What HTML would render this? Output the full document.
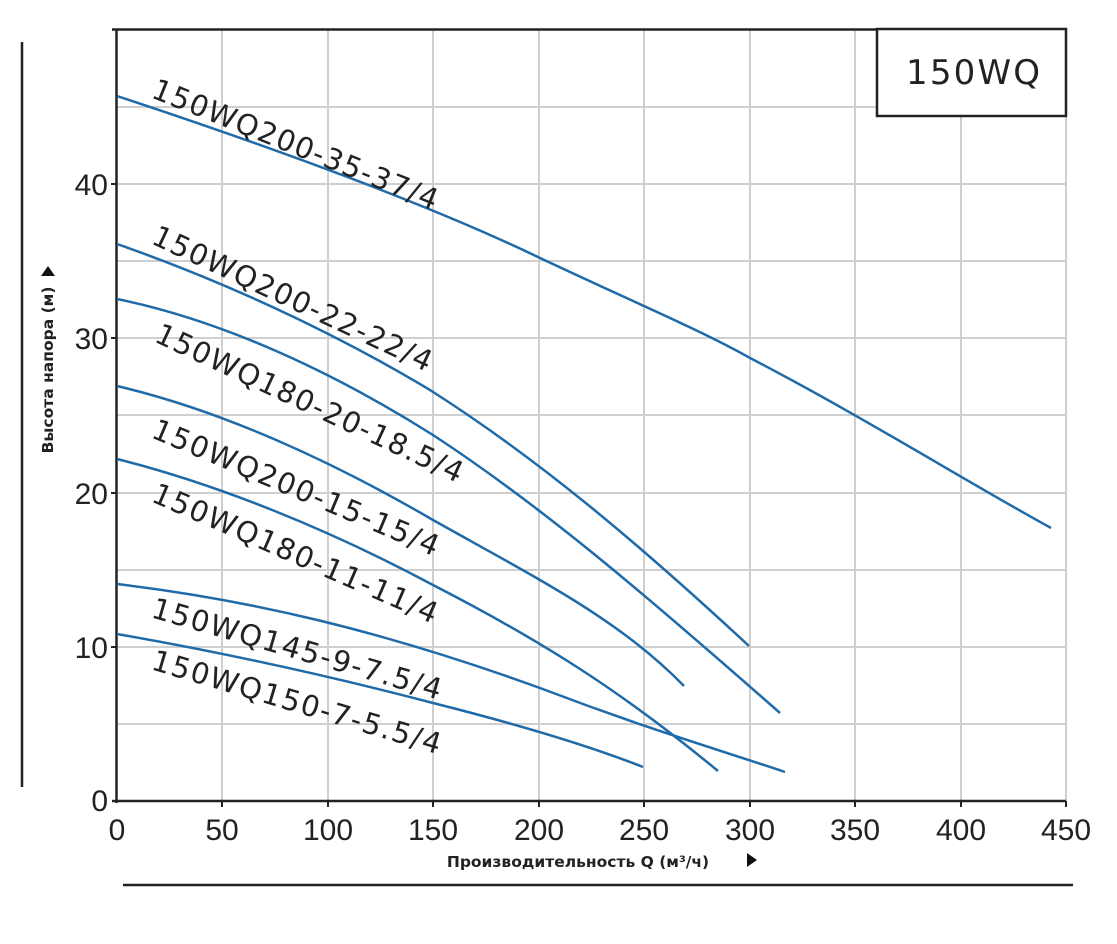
<!DOCTYPE html>
<html><head><meta charset="utf-8"><style>html,body{margin:0;padding:0;background:#fff}svg{display:block}</style></head>
<body>
<svg width="1117" height="944" viewBox="0 0 1117 944" xmlns="http://www.w3.org/2000/svg" font-family="'DejaVu Sans','Liberation Sans',sans-serif">
<g stroke="#cfcfcf" stroke-width="2">
<line x1="222" y1="30" x2="222" y2="801"/><line x1="328" y1="30" x2="328" y2="801"/><line x1="433" y1="30" x2="433" y2="801"/><line x1="539" y1="30" x2="539" y2="801"/><line x1="644" y1="30" x2="644" y2="801"/><line x1="750" y1="30" x2="750" y2="801"/><line x1="855" y1="30" x2="855" y2="801"/><line x1="961" y1="30" x2="961" y2="801"/><line x1="1066" y1="30" x2="1066" y2="801"/>
<line x1="117" y1="724" x2="1066" y2="724"/><line x1="117" y1="647" x2="1066" y2="647"/><line x1="117" y1="570" x2="1066" y2="570"/><line x1="117" y1="493" x2="1066" y2="493"/><line x1="117" y1="415" x2="1066" y2="415"/><line x1="117" y1="338" x2="1066" y2="338"/><line x1="117" y1="261" x2="1066" y2="261"/><line x1="117" y1="184" x2="1066" y2="184"/><line x1="117" y1="107" x2="1066" y2="107"/>
</g>
<g stroke="#222" stroke-width="2.5" fill="none">
<line x1="112" y1="29.5" x2="1066" y2="29.5"/>
<line x1="116.5" y1="29" x2="116.5" y2="803"/>
<line x1="112" y1="801" x2="1066" y2="801"/>
<line x1="22" y1="42" x2="22" y2="787"/>
<line x1="123" y1="885" x2="1073" y2="885"/>
</g>
<g stroke="#222" stroke-width="2">
<line x1="111" y1="647" x2="117" y2="647"/><line x1="111" y1="493" x2="117" y2="493"/><line x1="111" y1="338" x2="117" y2="338"/><line x1="111" y1="184" x2="117" y2="184"/>
<line x1="222" y1="801" x2="222" y2="807"/><line x1="328" y1="801" x2="328" y2="807"/><line x1="433" y1="801" x2="433" y2="807"/><line x1="539" y1="801" x2="539" y2="807"/><line x1="644" y1="801" x2="644" y2="807"/><line x1="750" y1="801" x2="750" y2="807"/><line x1="855" y1="801" x2="855" y2="807"/><line x1="961" y1="801" x2="961" y2="807"/><line x1="1066" y1="801" x2="1066" y2="807"/>
</g>
<rect x="877" y="29" width="189" height="87" fill="#fff" stroke="#222" stroke-width="2.5"/>
<text x="906" y="84" font-size="34" textLength="134" fill="#222">150WQ</text>
<g fill="#222" font-size="30" font-family="'Liberation Sans',sans-serif">
<g text-anchor="end"><text x="108" y="195">40</text><text x="108" y="349">30</text><text x="108" y="504">20</text><text x="108" y="658">10</text><text x="108" y="811">0</text></g>
<g text-anchor="middle"><text x="117" y="840">0</text><text x="222" y="840">50</text><text x="328" y="840">100</text><text x="433" y="840">150</text><text x="539" y="840">200</text><text x="644" y="840">250</text><text x="750" y="840">300</text><text x="855" y="840">350</text><text x="961" y="840">400</text><text x="1066" y="840">450</text></g>
</g>
<text x="578" y="867" font-size="15.5" font-weight="bold" text-anchor="middle" fill="#222">Производительность Q (м³/ч)</text>
<polygon points="747,853 747,867 757,860" fill="#111"/>
<text transform="translate(53,370) rotate(-90)" font-size="15.5" font-weight="bold" text-anchor="middle" fill="#222">Высота напора (м)</text>
<polygon points="41,276 55,276 48,266" fill="#111"/>
<g stroke="#1f6aa8" stroke-width="2.5" fill="none" stroke-linejoin="round">
<path d="M117,96 C250,140 420,200 540,258 C640,305 700,330 750,358 C860,415 960,478 1051,528"/>
<path d="M117,244 C220,280 330,330 430,390 C540,460 640,545 749,646"/>
<path d="M117,299 C220,320 330,370 433,435 C540,505 640,590 780,713"/>
<path d="M117,386 C220,410 330,460 433,520 C540,580 620,620 684,686"/>
<path d="M117,459 C220,485 330,530 433,585 C540,640 620,690 718,771"/>
<path d="M117,584 C250,600 380,630 540,688 C650,730 720,750 785,772"/>
<path d="M117,634 C220,652 330,676 433,703 C540,730 600,750 643,767"/>
</g>
<g fill="#222" font-size="29">
<text transform="translate(150,97) rotate(21.8)" textLength="305">150WQ200-35-37/4</text>
<text transform="translate(150,243) rotate(25)" textLength="305">150WQ200-22-22/4</text>
<text transform="translate(153,341) rotate(25)" textLength="336">150WQ180-20-18.5/4</text>
<text transform="translate(150,437) rotate(22.8)" textLength="308">150WQ200-15-15/4</text>
<text transform="translate(150,501) rotate(23.5)" textLength="308">150WQ180-11-11/4</text>
<text transform="translate(150,617) rotate(16)" textLength="300">150WQ145-9-7.5/4</text>
<text transform="translate(150,669) rotate(16.5)" textLength="300">150WQ150-7-5.5/4</text>
</g>
</svg>
</body></html>
